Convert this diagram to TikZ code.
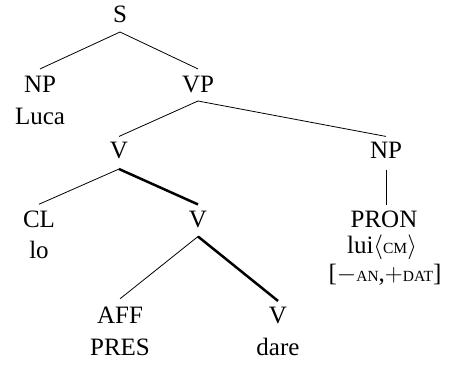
\documentclass[tikz,border=0pt]{standalone}
\usepackage{fontspec}
\setmainfont{Liberation Serif}
\newcommand{\fsc}[1]{{\fontsize{15.5}{18}\selectfont #1}}
\begin{document}
\begin{tikzpicture}[x=1pt,y=-1pt,
  lab/.style={font=\fontsize{25}{31}\selectfont, inner sep=0pt, anchor=base},
  thin/.style={line width=0.8pt},
  thick/.style={line width=2.5pt}]
\useasboundingbox (0,0) rectangle (457,367);
\node[lab] (S) at (120,22) {S};
\node[lab] (NPa) at (40,92.5) {NP};
\node[lab] (luca) at (40,124.5) {Luca};
\node[lab] (VP) at (198,92.5) {VP};
\node[lab] (Va) at (119,158.5) {V};
\node[lab] (NPb) at (386,158.5) {NP};
\node[lab] (CL) at (39,227) {CL};
\node[lab] (lo) at (39,258) {lo};
\node[lab] (Vb) at (198,227) {V};
\node[lab] (PRON) at (384,227) {PRON};
\node[lab] (lui) at (382,253.5) {lui\smash{$\langle$}\fsc{CM}\smash{$\rangle$}};
\node[lab] (feat) at (385,281) {\smash{[}$-$\fsc{AN},$+$\fsc{DAT}\smash{]}};
\node[lab] (AFF) at (120,323.5) {AFF};
\node[lab] (PRES) at (120,355) {PRES};
\node[lab] (Vc) at (278,323.5) {V};
\node[lab] (dare) at (278,355) {dare};
\draw[thin] ([yshift=-10pt]S.base) -- ([yshift=7pt]NPa.north);
\draw[thin] ([yshift=-10pt]S.base) -- ([yshift=7pt]VP.north);
\draw[thin] ([yshift=-8.5pt]VP.base) -- ([yshift=5.5pt]Va.north);
\draw[thin] ([yshift=-8.5pt]VP.base) -- ([yshift=5.5pt]NPb.north);
\draw[thin] ([yshift=-10.5pt]Va.base) -- ([yshift=6pt]CL.north);
\draw[thick] ([yshift=-10.5pt]Va.base) -- ([yshift=6pt]Vb.north);
\draw[thin] ([yshift=-11pt]NPb.base) -- ([yshift=5pt]NPb.base |- PRON.north);
\draw[thin] ([yshift=-9.5pt]Vb.base) -- ([yshift=8pt]AFF.north);
\draw[thick] ([yshift=-9.5pt]Vb.base) -- ([yshift=6pt]Vc.north);
\end{tikzpicture}
\end{document}
